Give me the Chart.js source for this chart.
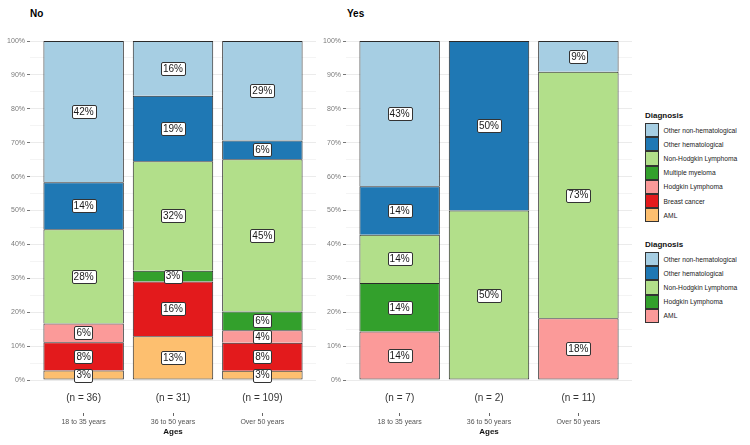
<!DOCTYPE html>
<html><head><meta charset="utf-8">
<script src="https://cdn.jsdelivr.net/npm/chart.js@4/dist/chart.umd.min.js"></script>
<style>
body{margin:0;background:#fff;width:750px;height:445px;position:relative;overflow:hidden;font-family:"Liberation Sans",Arial,sans-serif}
canvas{position:absolute;top:0}
.ptitle{position:absolute;font-weight:bold;font-size:10px;color:#000;line-height:12px}
.legend{position:absolute;left:645px;color:#1a1a1a}
.legend .lt{font-weight:bold;font-size:8px;line-height:10px;height:12px;color:#111}
.legend .row{display:flex;align-items:center;height:14.2px}
.legend .box{width:13.6px;height:14.2px;box-sizing:border-box;border:0.8px solid #333}
.legend .txt{font-size:6.7px;margin-left:5px;white-space:nowrap}
</style></head>
<body>
<div class="ptitle" style="left:30px;top:8px">No</div>
<div class="ptitle" style="left:347px;top:8px">Yes</div>
<canvas id="cNo" width="318" height="445" style="left:0"></canvas>
<canvas id="cYes" width="320" height="445" style="left:318px"></canvas>
<div class="legend" id="legNo" style="top:111px"></div>
<div class="legend" id="legYes" style="top:240px"></div>
<script>
// ---- data ----
const ageGroups = ['18 to 35 years', '36 to 50 years', 'Over 50 years'];
const nNo = [36, 31, 109];
const nYes = [7, 2, 11];
const yTicks = [0, 10, 20, 30, 40, 50, 60, 70, 80, 90, 100];

// "No" panel, percent of each age group (stack order bottom -> top)
const diagNo = ['AML', 'Breast cancer', 'Hodgkin Lymphoma', 'Multiple myeloma', 'Non-Hodgkin Lymphoma', 'Other hematological', 'Other non-hematological'];
const noAML         = [2.78, 12.90, 2.75];
const noBreast      = [8.33, 16.13, 8.26];
const noHodgkin     = [5.56, 0, 3.67];
const noMyeloma     = [0, 3.23, 5.50];
const noNHL         = [27.78, 32.26, 44.95];
const noOtherHem    = [13.89, 19.35, 5.50];
const noOtherNonHem = [41.67, 16.13, 29.36];
const colorsNo = ['#FDBF6F', '#E31A1C', '#FB9A99', '#33A02C', '#B2DF8A', '#1F78B4', '#A6CEE3'];

// "Yes" panel
const diagYes = ['AML', 'Hodgkin Lymphoma', 'Non-Hodgkin Lymphoma', 'Other hematological', 'Other non-hematological'];
const yesAML         = [14.29, 0, 18.18];
const yesHodgkin     = [14.29, 0, 0];
const yesNHL         = [14.29, 50.00, 72.73];
const yesOtherHem    = [14.29, 50.00, 0];
const yesOtherNonHem = [42.86, 0, 9.09];
const colorsYes = ['#FB9A99', '#33A02C', '#B2DF8A', '#1F78B4', '#A6CEE3'];

const seriesNo = [noAML, noBreast, noHodgkin, noMyeloma, noNHL, noOtherHem, noOtherNonHem];
const seriesYes = [yesAML, yesHodgkin, yesNHL, yesOtherHem, yesOtherNonHem];

const FONT = '"Liberation Sans", Arial, sans-serif';

const labelPlugin = {
  id: 'segLabels',
  afterDatasetsDraw(chart) {
    const ctx = chart.ctx;
    ctx.save();
    ctx.font = '10px ' + FONT;
    ctx.textAlign = 'center';
    ctx.textBaseline = 'middle';
    chart.data.datasets.forEach((ds, di) => {
      const meta = chart.getDatasetMeta(di);
      meta.data.forEach((el, i) => {
        const v = ds.data[i].y;
        if (!v) return;
        const cx = el.x, cy = (el.y + el.base) / 2;
        const txt = Math.round(v) + '%';
        const w = ctx.measureText(txt).width + 4, h = 13;
        ctx.beginPath();
        ctx.roundRect(Math.round(cx - w / 2) + 0.5, Math.round(cy - h / 2) + 0.5, Math.round(w), h, 1.5);
        ctx.fillStyle = '#ffffff';
        ctx.fill();
        ctx.lineWidth = 1;
        ctx.strokeStyle = '#333333';
        ctx.stroke();
        ctx.fillStyle = '#1a1a1a';
        ctx.fillText(txt, cx, cy + 0.5);
      });
    });
    ctx.restore();
  }
};

function makeChart(id, diags, series, colors, nVals, yWidth, padRight) {
  // bottom-most segment of each bar gets a bottom edge; others share the edge of the one below
  const isBottom = (k, i) => series.slice(0, k).every(s => !s[i]);
  const datasets = series.map((vals, k) => ({
    label: diags[k],
    data: vals.map((v, i) => ({ x: i, y: v || null })),
    backgroundColor: colors[k],
    borderColor: '#2a2a2a',
    borderWidth: c => ({ top: 1, left: 1, right: 1, bottom: isBottom(k, c.dataIndex) ? 1 : 0 }),
    borderSkipped: false,
    categoryPercentage: 1,
    barPercentage: 0.9
  }));
  const xIdx = ageGroups.map((_, i) => i);
  return new Chart(document.getElementById(id), {
    type: 'bar',
    data: { datasets },
    plugins: [labelPlugin],
    options: {
      responsive: false,
      animation: false,
      devicePixelRatio: 1,
      layout: { padding: { left: 0, right: padRight, top: 41, bottom: 8.2 } },
      plugins: { legend: { display: false }, tooltip: { enabled: false }, title: { display: false } },
      scales: {
        x: {
          type: 'linear', stacked: true, min: -0.6, max: 2.6, offset: false, weight: 0,
          afterBuildTicks: s => { s.ticks = xIdx.map(v => ({ value: v })); },
          afterFit: s => { s.height = 33; },
          grid: { display: false, offset: false },
          border: { display: false },
          ticks: { autoSkip: false, maxRotation: 0, padding: 4.3, color: '#333333',
                   font: { family: FONT, size: 10 },
                   callback: v => '(n = ' + nVals[v] + ')' }
        },
        x2: {
          type: 'linear', axis: 'x', position: 'bottom', min: -0.6, max: 2.6, offset: false, weight: 1,
          afterBuildTicks: s => { s.ticks = xIdx.map(v => ({ value: v })); },
          afterFit: s => { s.height = 23.8; },
          grid: { display: true, drawOnChartArea: false, drawTicks: true, tickLength: 3, tickColor: '#666666', offset: false },
          border: { display: false },
          ticks: { autoSkip: false, maxRotation: 0, padding: 2.3, color: '#555555',
                   font: { family: FONT, size: 7 },
                   callback: v => ageGroups[v] },
          title: { display: true, text: 'Ages', color: '#111111', padding: 0,
                   font: { family: FONT, size: 8, weight: 'bold' } }
        },
        y: {
          stacked: true, min: 0, max: 100,
          afterBuildTicks: s => { s.ticks = []; for (let v = 0; v <= 100; v += 5) s.ticks.push({ value: v }); },
          afterFit: s => { s.width = yWidth; },
          border: { display: false },
          grid: {
            color: c => (yTicks.includes(c.tick.value) ? '#EBEBEB' : '#F4F4F4'),
            tickColor: c => (yTicks.includes(c.tick.value) ? '#777777' : 'rgba(0,0,0,0)'),
            tickLength: 3, lineWidth: 1
          },
          ticks: { padding: 2, color: '#7a7a7a', font: { family: FONT, size: 7 },
                   callback: v => (yTicks.includes(v) ? v + '%' : '') }
        }
      }
    }
  });
}

makeChart('cNo', diagNo, seriesNo, colorsNo, nNo, 30, 2);
makeChart('cYes', diagYes, seriesYes, colorsYes, nYes, 28, 6);

function buildLegend(elId, diags, colors) {
  const el = document.getElementById(elId);
  let html = '<div class="lt">Diagnosis</div>';
  for (let k = diags.length - 1; k >= 0; k--) {
    html += '<div class="row"><span class="box" style="background:' + colors[k] + '"></span><span class="txt">' + diags[k] + '</span></div>';
  }
  el.innerHTML = html;
}
buildLegend('legNo', diagNo, colorsNo);
buildLegend('legYes', diagYes, colorsYes);
</script>
</body></html>
